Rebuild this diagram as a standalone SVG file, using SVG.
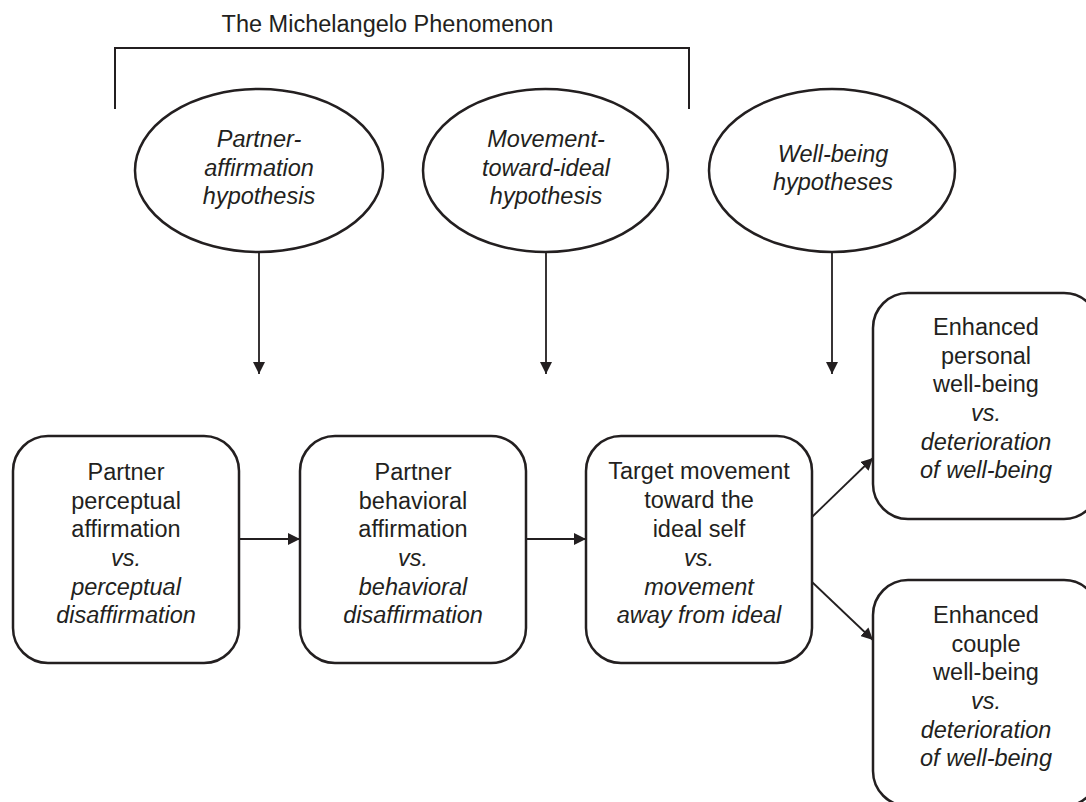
<svg xmlns="http://www.w3.org/2000/svg" width="1086" height="802" viewBox="0 0 1086 802">
<style>
text{font-family:"Liberation Sans",Arial,sans-serif;font-size:23.5px;fill:#231f20;text-anchor:middle}
.it{font-style:italic}
.node{fill:#fff;stroke:#231f20;stroke-width:2.5}
.conn{stroke:#231f20;stroke-width:1.8;fill:none}
</style>
<defs>
<marker id="ah" viewBox="0 0 12 12" refX="12" refY="6" markerWidth="12" markerHeight="12" markerUnits="userSpaceOnUse" orient="auto">
<path d="M0,0 L12,6 L0,12 z" fill="#231f20"/>
</marker>
</defs>
<rect width="1086" height="802" fill="#fff"/>
<g id="title">
<text x="387.5" y="32">The Michelangelo Phenomenon</text>
<path d="M115,109 V48 H689 V109" fill="none" stroke="#231f20" stroke-width="2"/>
</g>
<g id="h1">
<ellipse class="node" cx="259" cy="170.5" rx="124" ry="81.5"/>
<text class="it" x="259" y="147">Partner-</text>
<text class="it" x="259" y="176">affirmation</text>
<text class="it" x="259" y="204">hypothesis</text>
</g>
<g id="h2">
<ellipse class="node" cx="545.5" cy="170.5" rx="122.5" ry="81.5"/>
<text class="it" x="546" y="147">Movement-</text>
<text class="it" x="546" y="176">toward-ideal</text>
<text class="it" x="546" y="204">hypothesis</text>
</g>
<g id="h3">
<ellipse class="node" cx="832" cy="170.5" rx="123" ry="81.5"/>
<text class="it" x="833" y="162">Well-being</text>
<text class="it" x="833" y="190">hypotheses</text>
</g>
<g id="b1">
<rect class="node" x="13" y="436" width="226" height="227" rx="35"/>
<text x="126" y="480">Partner</text>
<text x="126" y="508.5">perceptual</text>
<text x="126" y="537">affirmation</text>
<text class="it" x="126" y="566">vs.</text>
<text class="it" x="126" y="594.5">perceptual</text>
<text class="it" x="126" y="623">disaffirmation</text>
</g>
<g id="b2">
<rect class="node" x="300" y="436" width="226" height="227" rx="35"/>
<text x="413" y="480">Partner</text>
<text x="413" y="508.5">behavioral</text>
<text x="413" y="537">affirmation</text>
<text class="it" x="413" y="566">vs.</text>
<text class="it" x="413" y="594.5">behavioral</text>
<text class="it" x="413" y="623">disaffirmation</text>
</g>
<g id="b3">
<rect class="node" x="586" y="436" width="226" height="227" rx="35"/>
<text x="699" y="479">Target movement</text>
<text x="699" y="508">toward the</text>
<text x="699" y="537">ideal self</text>
<text class="it" x="699" y="566">vs.</text>
<text class="it" x="699" y="594.5">movement</text>
<text class="it" x="699" y="623">away from ideal</text>
</g>
<g id="b4">
<rect class="node" x="873" y="293" width="226" height="226" rx="35"/>
<text x="986" y="335">Enhanced</text>
<text x="986" y="363.5">personal</text>
<text x="986" y="392">well-being</text>
<text class="it" x="986" y="421">vs.</text>
<text class="it" x="986" y="449.5">deterioration</text>
<text class="it" x="986" y="478">of well-being</text>
</g>
<g id="b5">
<rect class="node" x="873" y="580" width="226" height="226" rx="35"/>
<text x="986" y="623">Enhanced</text>
<text x="986" y="651.5">couple</text>
<text x="986" y="680">well-being</text>
<text class="it" x="986" y="709">vs.</text>
<text class="it" x="986" y="737.5">deterioration</text>
<text class="it" x="986" y="766">of well-being</text>
</g>
<g id="connectors">
<line class="conn" x1="259" y1="252" x2="259" y2="374" marker-end="url(#ah)"/>
<line class="conn" x1="546" y1="252" x2="546" y2="374" marker-end="url(#ah)"/>
<line class="conn" x1="832" y1="252" x2="832" y2="374" marker-end="url(#ah)"/>
<line class="conn" x1="239" y1="539" x2="300" y2="539" marker-end="url(#ah)"/>
<line class="conn" x1="526" y1="539" x2="586" y2="539" marker-end="url(#ah)"/>
<line class="conn" x1="812" y1="517" x2="873" y2="458" marker-end="url(#ah)"/>
<line class="conn" x1="812" y1="582" x2="873" y2="640" marker-end="url(#ah)"/>
</g>
</svg>
